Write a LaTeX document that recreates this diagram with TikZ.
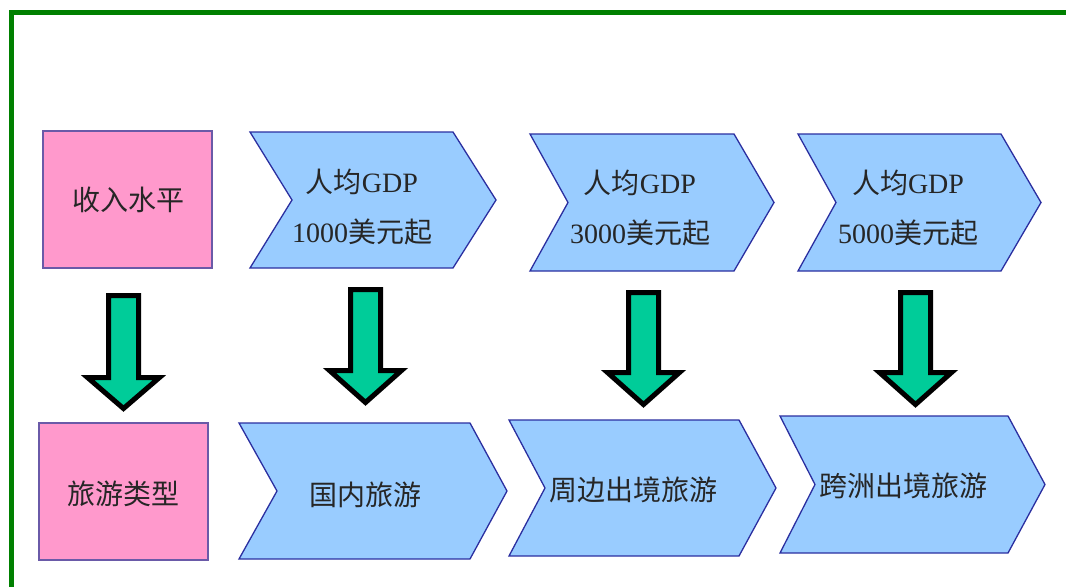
\documentclass[tikz,border=0pt]{standalone}
\usepackage{fontspec}
\setmainfont{Liberation Serif}
\newfontfamily\cjk{Noto Sans CJK SC}
\definecolor{pinkf}{HTML}{FF99CC}
\definecolor{bluef}{HTML}{99CCFF}
\definecolor{edgeb}{HTML}{2B2FA0}
\definecolor{edgep}{HTML}{6A5AA8}
\definecolor{arrowg}{HTML}{00CC99}
\definecolor{frameg}{HTML}{008000}
\tikzset{
  chev/.style={draw=edgeb, fill=bluef, line width=1.3pt, line join=miter},
  pinkbox/.style={draw=edgep, fill=pinkf, line width=1.5pt},
  barrow/.style={draw=black, fill=arrowg, line width=5pt, line join=miter, miter limit=4},
  txt/.style={text=black!85, align=center, font=\fontsize{28}{50}\selectfont, inner sep=0pt},
}
\newcommand\chevshape[7]{% name, left, notch, shoulder, tip, top, bottom
  \draw[chev] (#2,#6) -- (#4,#6) -- (#5,{(#6+#7)/2}) -- (#4,#7) -- (#2,#7) -- (#3,{(#6+#7)/2}) -- cycle;
  \coordinate (#1) at ({(#3+#4)/2},{(#6+#7)/2});
}
\newcommand\dnarrow[4]{% cx, top, head, tip
  \draw[barrow] (#1-15,#2+2.5) -- (#1+15,#2+2.5) -- (#1+15,#3+2.5) -- (#1+36,#3+2.5)
     -- (#1,#4-3.5) -- (#1-36,#3+2.5) -- (#1-15,#3+2.5) -- cycle;
}
\begin{document}
\begin{tikzpicture}[x=1pt,y=-1pt]
\useasboundingbox (0,0) rectangle (1066,587);
\fill[white] (0,0) rectangle (1066,587);
% frame
\draw[frameg, line width=5pt] (1066,12.5) -- (11.5,12.5) -- (11.5,587);
% pink boxes
\draw[pinkbox] (43,131) rectangle (212,268);
\coordinate (p1) at (127.5,199.5);
\draw[pinkbox] (39,423) rectangle (208,560);
\coordinate (p2) at (123.5,491.5);
\node[txt] (tp1) at (128,200) {\cjk 收入水平};
\node[txt] (tp2) at (123,494) {\cjk 旅游类型};
% top chevrons
\chevshape{c1}{250}{292}{453}{496}{132}{268}
\chevshape{c2}{530}{568}{734}{774}{134}{271}
\chevshape{c3}{798}{836}{1001}{1041}{134}{271}
\node[txt] (tc1) at (362,207) {{\cjk 人均}GDP\\1000{\cjk 美元起}};
\node[txt] (tc2) at (640,208) {{\cjk 人均}GDP\\3000{\cjk 美元起}};
\node[txt] (tc3) at (908,208) {{\cjk 人均}GDP\\5000{\cjk 美元起}};
% bottom chevrons
\chevshape{c4}{239}{277}{470}{507}{423}{559}
\chevshape{c5}{509}{545}{739}{776}{420}{556}
\chevshape{c6}{780}{815}{1008}{1045}{416}{553}
\node[txt] (tc4) at (365,495) {\cjk 国内旅游};
\node[txt] (tc5) at (633,490) {\cjk 周边出境旅游};
\node[txt] (tc6) at (903,486) {\cjk 跨洲出境旅游};
% arrows
\dnarrow{123.5}{293}{375}{412}
\dnarrow{365.5}{287}{368}{406}
\dnarrow{643.5}{290}{370}{408}
\dnarrow{915.5}{290}{370}{408}
\end{tikzpicture}
\end{document}
